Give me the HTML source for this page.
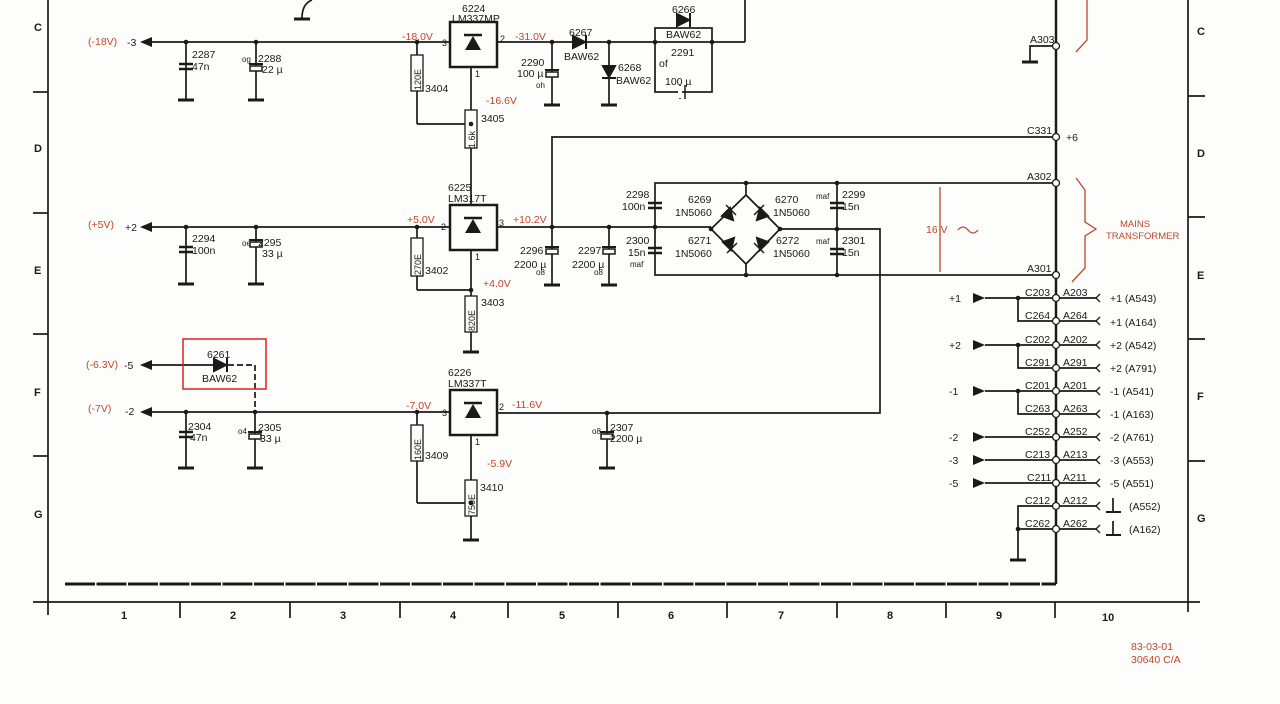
<!DOCTYPE html>
<html><head><meta charset="utf-8"><style>
html,body{margin:0;padding:0;background:#fdfdfb;}
svg{display:block}
text{font-family:"Liberation Sans",sans-serif;font-size:10.5px;fill:#1a1a1a}
.r{fill:#c2452c}
.b{font-weight:bold;font-size:11px}
</style></head><body>
<svg width="1280" height="704" viewBox="0 0 1280 704" xmlns="http://www.w3.org/2000/svg">
<defs>
<g id="gnd"><line x1="-8" y1="0" x2="8" y2="0" stroke="#1a1a1a" stroke-width="3"/></g>
<g id="cap"><line x1="-7" y1="-2" x2="7" y2="-2" stroke="#1a1a1a" stroke-width="2.5"/><line x1="-7" y1="3" x2="7" y2="3" stroke="#1a1a1a" stroke-width="2.5"/></g>
<g id="ecap"><rect x="-6" y="-2" width="12" height="5" fill="#fdfdfb" stroke="#1a1a1a" stroke-width="1.5"/><line x1="-7" y1="-4" x2="7" y2="-4" stroke="#1a1a1a" stroke-width="2"/></g>
<g id="arrL"><polygon points="0,0 12,-5 12,5" fill="#1a1a1a"/></g>
<g id="arrR"><polygon points="0,-5 12,0 0,5" fill="#1a1a1a"/></g>
<g id="dot"><circle r="2.3" fill="#1a1a1a"/></g>
<g id="oc"><circle r="3.5" fill="#fdfdfb" stroke="#1a1a1a" stroke-width="1.3"/></g>
<g id="reg"><rect x="0" y="0" width="47" height="45" fill="#fdfdfb" stroke="#1a1a1a" stroke-width="2.5"/><polygon points="15,28 31,28 23,14" fill="#1a1a1a"/><line x1="14" y1="13" x2="32" y2="13" stroke="#1a1a1a" stroke-width="2.5"/></g>
</defs>
<g stroke="#1a1a1a" stroke-width="1.7" fill="none">
<line x1="48" y1="0" x2="48" y2="615"/>
<line x1="33" y1="602" x2="1200" y2="602"/>
<line x1="1188" y1="0" x2="1188" y2="612"/>
<line x1="33" y1="92" x2="48" y2="92"/><line x1="33" y1="213" x2="48" y2="213"/><line x1="33" y1="334" x2="48" y2="334"/><line x1="33" y1="456" x2="48" y2="456"/>
<line x1="1188" y1="96" x2="1205" y2="96"/><line x1="1188" y1="217" x2="1205" y2="217"/><line x1="1188" y1="339" x2="1205" y2="339"/><line x1="1188" y1="461" x2="1205" y2="461"/>
<line x1="180" y1="602" x2="180" y2="618"/><line x1="290" y1="602" x2="290" y2="618"/><line x1="400" y1="602" x2="400" y2="618"/><line x1="508" y1="602" x2="508" y2="618"/><line x1="618" y1="602" x2="618" y2="618"/><line x1="727" y1="602" x2="727" y2="618"/><line x1="837" y1="602" x2="837" y2="618"/><line x1="946" y1="602" x2="946" y2="618"/><line x1="1055" y1="602" x2="1055" y2="618"/>
<line x1="65" y1="584" x2="1056" y2="584" stroke-width="3" stroke-dasharray="30,1.5"/>
<line x1="1056" y1="0" x2="1056" y2="584" stroke-width="2.5"/>
<path d="M312,0 Q302,4 302,18"/>
<line x1="145" y1="42" x2="450" y2="42"/>
<line x1="186" y1="42" x2="186" y2="100"/><line x1="256" y1="42" x2="256" y2="100"/>
<line x1="417" y1="42" x2="417" y2="124"/><line x1="417" y1="124" x2="471" y2="124"/>
<line x1="471" y1="67" x2="471" y2="210"/>
<line x1="497" y1="42" x2="745" y2="42"/><line x1="745" y1="42" x2="745" y2="0"/>
<line x1="552" y1="42" x2="552" y2="105"/><line x1="609" y1="42" x2="609" y2="105"/>
<rect x="655" y="28" width="57" height="64"/>
<polyline points="552,227 552,137 1056,137"/>
<polyline points="1056,46 1030,46 1030,62"/>
<line x1="145" y1="227" x2="450" y2="227"/>
<line x1="186" y1="227" x2="186" y2="284"/><line x1="256" y1="227" x2="256" y2="284"/>
<line x1="417" y1="227" x2="417" y2="290"/><line x1="417" y1="290" x2="471" y2="290"/>
<line x1="471" y1="250" x2="471" y2="352"/>
<line x1="497" y1="227" x2="711" y2="227"/>
<line x1="552" y1="227" x2="552" y2="285"/><line x1="609" y1="227" x2="609" y2="285"/>
<rect x="655" y="183" width="401" height="92"/>
<polygon points="746,195 780,229 746,264 711,229"/>
<line x1="746" y1="183" x2="746" y2="195"/><line x1="746" y1="264" x2="746" y2="275"/>
<polyline points="780,229 880,229 880,413 497,413"/>
<line x1="837" y1="183" x2="837" y2="275"/>
<line x1="145" y1="365" x2="213" y2="365"/>
<path d="M228,365 H255 V412" stroke-dasharray="6,3"/>
<line x1="145" y1="412" x2="450" y2="412"/>
<line x1="186" y1="412" x2="186" y2="468"/><line x1="255" y1="412" x2="255" y2="468"/>
<line x1="417" y1="412" x2="417" y2="503"/><line x1="417" y1="503" x2="471" y2="503"/>
<line x1="471" y1="435" x2="471" y2="540"/>
<line x1="607" y1="413" x2="607" y2="468"/>
<line x1="985" y1="298" x2="1056" y2="298"/><polyline points="1018,298 1018,321 1056,321"/>
<line x1="985" y1="345" x2="1056" y2="345"/><polyline points="1018,345 1018,368 1056,368"/>
<line x1="985" y1="391" x2="1056" y2="391"/><polyline points="1018,391 1018,414 1056,414"/>
<line x1="985" y1="437" x2="1056" y2="437"/><line x1="985" y1="460" x2="1056" y2="460"/><line x1="985" y1="483" x2="1056" y2="483"/>
<polyline points="1056,506 1018,506 1018,560"/><line x1="1018" y1="529" x2="1056" y2="529"/>
<line x1="1056" y1="298" x2="1096" y2="298"/><line x1="1056" y1="321" x2="1096" y2="321"/><line x1="1056" y1="345" x2="1096" y2="345"/><line x1="1056" y1="368" x2="1096" y2="368"/><line x1="1056" y1="391" x2="1096" y2="391"/><line x1="1056" y1="414" x2="1096" y2="414"/><line x1="1056" y1="437" x2="1096" y2="437"/><line x1="1056" y1="460" x2="1096" y2="460"/><line x1="1056" y1="483" x2="1096" y2="483"/><line x1="1056" y1="506" x2="1096" y2="506"/><line x1="1056" y1="529" x2="1096" y2="529"/>
<line x1="1113" y1="498" x2="1113" y2="511"/><line x1="1106" y1="512" x2="1121" y2="512" stroke-width="2"/>
<line x1="1113" y1="521" x2="1113" y2="534"/><line x1="1106" y1="535" x2="1121" y2="535" stroke-width="2"/>
</g>
<g stroke="#c2452c" stroke-width="1.3" fill="none">
<rect x="183" y="339" width="83" height="50" stroke="#e02020" stroke-width="1.5"/>
<path d="M1087,0 V40 L1076,52"/>
<line x1="940" y1="187" x2="940" y2="272"/>
<path d="M958,230 q5,-6 10,0 q5,6 10,0"/>
<path d="M1076,178 L1085,190 V222 L1096,229 L1085,236 V268 L1072,282"/>
</g>
<g>
<use href="#gnd" x="302" y="19"/>
<use href="#gnd" x="186" y="100"/><use href="#gnd" x="256" y="100"/><use href="#gnd" x="471" y="210"/><use href="#gnd" x="552" y="105"/><use href="#gnd" x="609" y="105"/><use href="#gnd" x="1030" y="62"/>
<use href="#gnd" x="186" y="284"/><use href="#gnd" x="256" y="284"/><use href="#gnd" x="471" y="352"/><use href="#gnd" x="552" y="285"/><use href="#gnd" x="609" y="285"/>
<use href="#gnd" x="186" y="468"/><use href="#gnd" x="255" y="468"/><use href="#gnd" x="471" y="540"/><use href="#gnd" x="607" y="468"/><use href="#gnd" x="1018" y="560"/>
</g>
<use href="#cap" x="186" y="66"/><use href="#ecap" x="256" y="68"/><use href="#ecap" x="552" y="74"/>
<use href="#cap" x="186" y="249"/><use href="#ecap" x="256" y="244"/><use href="#ecap" x="552" y="251"/><use href="#ecap" x="609" y="251"/>
<use href="#cap" x="186" y="434"/><use href="#ecap" x="255" y="436"/><use href="#ecap" x="607" y="436"/>
<use href="#cap" x="655" y="205"/><use href="#cap" x="655" y="250"/><use href="#cap" x="837" y="205"/><use href="#cap" x="837" y="251"/>
<g stroke="#1a1a1a" stroke-width="1.5"><line x1="680" y1="85" x2="680" y2="99"/><line x1="685" y1="85" x2="685" y2="99"/></g>
<rect x="678" y="86" width="4" height="12" fill="#fdfdfb"/>
<g fill="#fdfdfb" stroke="#1a1a1a" stroke-width="1.3">
<rect x="411" y="55" width="12" height="36"/><rect x="465" y="110" width="12" height="38"/>
<rect x="411" y="238" width="12" height="38"/><rect x="465" y="296" width="12" height="36"/>
<rect x="411" y="425" width="12" height="36"/><rect x="465" y="480" width="12" height="36"/>
</g>
<text transform="translate(421,90) rotate(-90)" style="font-size:9px">120E</text>
<text transform="translate(475,148) rotate(-90)" style="font-size:9px">1.6k</text>
<text transform="translate(421,275) rotate(-90)" style="font-size:9px">270E</text>
<text transform="translate(475,331) rotate(-90)" style="font-size:9px">820E</text>
<text transform="translate(421,460) rotate(-90)" style="font-size:9px">160E</text>
<text transform="translate(475,515) rotate(-90)" style="font-size:9px">750E</text>
<use href="#reg" x="450" y="22"/><use href="#reg" x="450" y="205"/><use href="#reg" x="450" y="390"/>
<g fill="#1a1a1a" stroke="#1a1a1a" stroke-width="2">
<polygon points="573,36 573,48 585,42"/><line x1="586" y1="35" x2="586" y2="49"/>
<polygon points="603,66 615,66 609,77"/><line x1="602" y1="78" x2="616" y2="78"/>
<polygon points="677,14 677,26 689,20"/><line x1="690" y1="13" x2="690" y2="27"/>
<polygon points="214,359 214,371 226,365"/><line x1="227" y1="358" x2="227" y2="372"/>
<polygon points="722,216 730,208 733,220"/><line x1="726" y1="205" x2="736" y2="215" stroke-width="1.5"/>
<polygon points="768,216 760,208 757,220"/><line x1="764" y1="205" x2="754" y2="215" stroke-width="1.5"/>
<polygon points="723,242 731,250 734,238"/><line x1="727" y1="253" x2="737" y2="243" stroke-width="1.5"/>
<polygon points="768,242 760,250 757,238"/><line x1="764" y1="253" x2="754" y2="243" stroke-width="1.5"/>
</g>
<use href="#arrL" x="140" y="42"/><use href="#arrL" x="140" y="227"/><use href="#arrL" x="140" y="365"/><use href="#arrL" x="140" y="412"/>
<use href="#arrR" x="973" y="298"/><use href="#arrR" x="973" y="345"/><use href="#arrR" x="973" y="391"/><use href="#arrR" x="973" y="437"/><use href="#arrR" x="973" y="460"/><use href="#arrR" x="973" y="483"/>
<g>
<use href="#dot" x="186" y="42"/><use href="#dot" x="256" y="42"/><use href="#dot" x="417" y="42"/><use href="#dot" x="471" y="124"/><use href="#dot" x="552" y="42"/><use href="#dot" x="609" y="42"/><use href="#dot" x="655" y="42"/><use href="#dot" x="712" y="42"/>
<use href="#dot" x="186" y="227"/><use href="#dot" x="256" y="227"/><use href="#dot" x="417" y="227"/><use href="#dot" x="471" y="290"/><use href="#dot" x="552" y="227"/><use href="#dot" x="609" y="227"/><use href="#dot" x="655" y="227"/>
<use href="#dot" x="746" y="183"/><use href="#dot" x="746" y="275"/><use href="#dot" x="837" y="183"/><use href="#dot" x="837" y="229"/><use href="#dot" x="837" y="275"/><use href="#dot" x="711" y="229"/><use href="#dot" x="780" y="229"/>
<use href="#dot" x="186" y="412"/><use href="#dot" x="255" y="412"/><use href="#dot" x="417" y="412"/><use href="#dot" x="471" y="503"/><use href="#dot" x="607" y="413"/>
<use href="#dot" x="1018" y="298"/><use href="#dot" x="1018" y="345"/><use href="#dot" x="1018" y="391"/><use href="#dot" x="1018" y="529"/>
</g>
<g>
<use href="#oc" x="1056" y="46"/><use href="#oc" x="1056" y="137"/><use href="#oc" x="1056" y="183"/><use href="#oc" x="1056" y="275"/>
<use href="#oc" x="1056" y="298"/><use href="#oc" x="1056" y="321"/><use href="#oc" x="1056" y="345"/><use href="#oc" x="1056" y="368"/><use href="#oc" x="1056" y="391"/><use href="#oc" x="1056" y="414"/><use href="#oc" x="1056" y="437"/><use href="#oc" x="1056" y="460"/><use href="#oc" x="1056" y="483"/><use href="#oc" x="1056" y="506"/><use href="#oc" x="1056" y="529"/>
</g>
<g fill="none" stroke="#1a1a1a" stroke-width="1.3">
<path d="M1100,294 l-4,4 l4,4"/><path d="M1100,317 l-4,4 l4,4"/><path d="M1100,341 l-4,4 l4,4"/><path d="M1100,364 l-4,4 l4,4"/><path d="M1100,387 l-4,4 l4,4"/><path d="M1100,410 l-4,4 l4,4"/><path d="M1100,433 l-4,4 l4,4"/><path d="M1100,456 l-4,4 l4,4"/><path d="M1100,479 l-4,4 l4,4"/><path d="M1100,502 l-4,4 l4,4"/><path d="M1100,525 l-4,4 l4,4"/>
</g>
<g class="b">
<text x="34" y="31" class="b">C</text><text x="34" y="152" class="b">D</text><text x="34" y="274" class="b">E</text><text x="34" y="396" class="b">F</text><text x="34" y="518" class="b">G</text>
<text x="1197" y="35" class="b">C</text><text x="1197" y="157" class="b">D</text><text x="1197" y="279" class="b">E</text><text x="1197" y="400" class="b">F</text><text x="1197" y="522" class="b">G</text>
<text x="121" y="619" class="b">1</text><text x="230" y="619" class="b">2</text><text x="340" y="619" class="b">3</text><text x="450" y="619" class="b">4</text><text x="559" y="619" class="b">5</text><text x="668" y="619" class="b">6</text><text x="778" y="619" class="b">7</text><text x="887" y="619" class="b">8</text><text x="996" y="619" class="b">9</text><text x="1102" y="621" class="b">10</text>
</g>
<text x="88" y="45" class="r">(-18V)</text><text x="127" y="46">-3</text>
<text x="88" y="228" class="r">(+5V)</text><text x="125" y="231">+2</text>
<text x="86" y="368" class="r">(-6.3V)</text><text x="124" y="369">-5</text>
<text x="88" y="412" class="r">(-7V)</text><text x="125" y="415">-2</text>
<text x="192" y="58">2287</text><text x="192" y="70">47n</text>
<text x="258" y="62">2288</text><text x="262" y="73">22 µ</text><text x="242" y="62" style="font-size:8px">og</text>
<text x="192" y="242">2294</text><text x="192" y="254">100n</text>
<text x="258" y="246">2295</text><text x="262" y="257">33 µ</text><text x="242" y="246" style="font-size:8px">oe</text>
<text x="188" y="430">2304</text><text x="190" y="441">47n</text>
<text x="258" y="431">2305</text><text x="260" y="442">33 µ</text><text x="238" y="434" style="font-size:8px">o4</text>
<text x="207" y="358">6261</text><text x="202" y="382">BAW62</text>
<text x="402" y="40" class="r">-18.0V</text><text x="442" y="46" style="font-size:9px">3</text><text x="500" y="42" style="font-size:9px">2</text><text x="475" y="77" style="font-size:9px">1</text>
<text x="462" y="12">6224</text><text x="452" y="22">LM337MP</text>
<text x="425" y="92">3404</text><text x="486" y="104" class="r">-16.6V</text><text x="481" y="122">3405</text>
<text x="515" y="40" class="r">-31.0V</text>
<text x="521" y="66">2290</text><text x="517" y="77">100 µ</text><text x="536" y="88" style="font-size:8px">oh</text>
<text x="569" y="36">6267</text><text x="564" y="60">BAW62</text>
<text x="618" y="71">6268</text><text x="616" y="84">BAW62</text>
<text x="672" y="13">6266</text><text x="666" y="38">BAW62</text>
<text x="671" y="56">2291</text><text x="659" y="67">of</text><text x="665" y="85">100 µ</text>
<text x="448" y="191">6225</text><text x="448" y="202">LM317T</text>
<text x="407" y="223" class="r">+5.0V</text><text x="441" y="230" style="font-size:9px">2</text><text x="499" y="226" style="font-size:9px">3</text><text x="475" y="260" style="font-size:9px">1</text>
<text x="425" y="274">3402</text><text x="483" y="287" class="r">+4.0V</text><text x="481" y="306">3403</text>
<text x="513" y="223" class="r">+10.2V</text>
<text x="520" y="254">2296</text><text x="514" y="268">2200 µ</text><text x="536" y="275" style="font-size:8px">o8</text>
<text x="578" y="254">2297</text><text x="572" y="268">2200 µ</text><text x="594" y="275" style="font-size:8px">o8</text>
<text x="626" y="198">2298</text><text x="622" y="210">100n</text>
<text x="626" y="244">2300</text><text x="628" y="256">15n</text><text x="630" y="267" style="font-size:8px">maf</text>
<text x="688" y="203">6269</text><text x="675" y="216">1N5060</text>
<text x="775" y="203">6270</text><text x="773" y="216">1N5060</text>
<text x="688" y="244">6271</text><text x="675" y="257">1N5060</text>
<text x="776" y="244">6272</text><text x="773" y="257">1N5060</text>
<text x="816" y="199" style="font-size:8px">maf</text><text x="842" y="198">2299</text><text x="842" y="210">15n</text>
<text x="816" y="244" style="font-size:8px">maf</text><text x="842" y="244">2301</text><text x="842" y="256">15n</text>
<text x="926" y="233" class="r">16 V</text>
<text x="1120" y="227" class="r" style="font-size:9.5px">MAINS</text><text x="1106" y="239" class="r" style="font-size:9.5px">TRANSFORMER</text>
<text x="448" y="376">6226</text><text x="448" y="387">LM337T</text>
<text x="406" y="409" class="r">-7.0V</text><text x="442" y="416" style="font-size:9px">3</text><text x="499" y="410" style="font-size:9px">2</text><text x="475" y="445" style="font-size:9px">1</text>
<text x="512" y="408" class="r">-11.6V</text>
<text x="425" y="459">3409</text><text x="487" y="467" class="r">-5.9V</text><text x="480" y="491">3410</text>
<text x="610" y="431">2307</text><text x="610" y="442">2200 µ</text><text x="592" y="434" style="font-size:8px">o8</text>
<text x="1030" y="43">A303</text><text x="1027" y="134">C331</text><text x="1066" y="141">+6</text>
<text x="1027" y="180">A302</text><text x="1027" y="272">A301</text>
<text x="949" y="302">+1</text><text x="949" y="349">+2</text><text x="949" y="395">-1</text><text x="949" y="441">-2</text><text x="949" y="464">-3</text><text x="949" y="487">-5</text>
<text x="1025" y="296">C203</text><text x="1025" y="319">C264</text><text x="1025" y="343">C202</text><text x="1025" y="366">C291</text><text x="1025" y="389">C201</text><text x="1025" y="412">C263</text><text x="1025" y="435">C252</text><text x="1025" y="458">C213</text><text x="1027" y="481">C211</text><text x="1025" y="504">C212</text><text x="1025" y="527">C262</text>
<text x="1063" y="296">A203</text><text x="1063" y="319">A264</text><text x="1063" y="343">A202</text><text x="1063" y="366">A291</text><text x="1063" y="389">A201</text><text x="1063" y="412">A263</text><text x="1063" y="435">A252</text><text x="1063" y="458">A213</text><text x="1063" y="481">A211</text><text x="1063" y="504">A212</text><text x="1063" y="527">A262</text>
<text x="1110" y="302">+1 (A543)</text><text x="1110" y="326">+1 (A164)</text><text x="1110" y="349">+2 (A542)</text><text x="1110" y="372">+2 (A791)</text><text x="1110" y="395">-1 (A541)</text><text x="1110" y="418">-1 (A163)</text><text x="1110" y="441">-2 (A761)</text><text x="1110" y="464">-3 (A553)</text><text x="1110" y="487">-5 (A551)</text><text x="1129" y="510">(A552)</text><text x="1129" y="533">(A162)</text>
<text x="1131" y="650" class="r">83-03-01</text><text x="1131" y="663" class="r">30640 C/A</text>
</svg>
</body></html>
